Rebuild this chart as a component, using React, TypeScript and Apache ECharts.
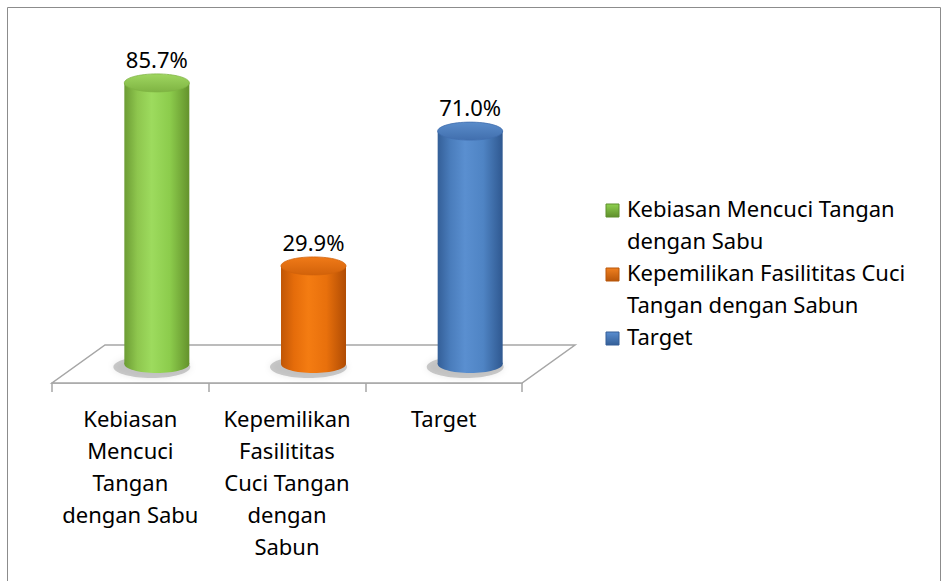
import React, { useEffect, useRef } from "react";
import * as echarts from "echarts";

const categories = [
  "Kebiasan Mencuci Tangan dengan Sabu",
  "Kepemilikan Fasilititas Cuci Tangan dengan Sabun",
  "Target",
];
const values = [85.7, 29.9, 71.0];
const valueLabels = ["85.7%", "29.9%", "71.0%"];
const axisLabelLines = [
  ["Kebiasan", "Mencuci", "Tangan", "dengan Sabu"],
  ["Kepemilikan", "Fasilititas", "Cuci Tangan", "dengan", "Sabun"],
  ["Target"],
];
const legendLines = [
  ["Kebiasan Mencuci Tangan", "dengan Sabu"],
  ["Kepemilikan Fasilititas Cuci", "Tangan dengan Sabun"],
  ["Target"],
];

const FONT = "'Noto Sans', 'Open Sans', sans-serif";
const FS = 22;

const palette = [
  {
    body: ["#6c9c34", "#8ec64e", "#9ddb5e", "#8ccc4c", "#64922c"],
    top: ["#9fd660", "#7fb443"],
    legend: ["#8fd14f", "#5f8f2c"],
  },
  {
    body: ["#c05606", "#e56c0a", "#f47c12", "#e8700c", "#b04c04"],
    top: ["#f07a18", "#d2620a"],
    legend: ["#f08020", "#b8560a"],
  },
  {
    body: ["#345f98", "#4a7dbc", "#5a8fd0", "#4f84c4", "#2f5890"],
    top: ["#5a8cca", "#416fae"],
    legend: ["#5a8ed0", "#345f98"],
  },
];

const DEPTH_X = 53;
const DEPTH_Y = 38;
const BAR_HALF_W = 32.5;
const ELL_RY = 9;

function bodyGradient(c: string[]) {
  return new echarts.graphic.LinearGradient(0, 0, 1, 0, [
    { offset: 0, color: c[0] },
    { offset: 0.2, color: c[1] },
    { offset: 0.42, color: c[2] },
    { offset: 0.7, color: c[3] },
    { offset: 1, color: c[4] },
  ]);
}

export default function App() {
  const ref = useRef<HTMLDivElement>(null);

  useEffect(() => {
    if (!ref.current) return;
    const chart = echarts.init(ref.current, undefined, { renderer: "svg" });

    const legendGraphics: any[] = [];
    let lineIndex = 0;
    legendLines.forEach((lines, i) => {
      const firstCenter = 208 + 32 * lineIndex;
      legendGraphics.push({
        type: "rect",
        shape: { x: 606, y: firstCenter - 4, width: 13, height: 13 },
        style: {
          fill: new echarts.graphic.LinearGradient(0, 0, 0, 1, [
            { offset: 0, color: palette[i].legend[0] },
            { offset: 1, color: palette[i].legend[1] },
          ]),
          stroke: palette[i].legend[1],
          lineWidth: 1,
        },
      });
      legendGraphics.push({
        type: "text",
        style: {
          text: lines.join("\n"),
          x: 627,
          y: firstCenter - 16,
          verticalAlign: "top",
          align: "left",
          lineHeight: 32,
          fontSize: FS,
          fontFamily: FONT,
          fill: "#000",
        },
      });
      lineIndex += lines.length;
    });

    const option: any = {
      animation: false,
      backgroundColor: "#ffffff",
      grid: { left: 52, right: 429, top: 55, bottom: 198, containLabel: false },
      xAxis: {
        type: "category",
        data: categories,
        boundaryGap: true,
        axisLine: { show: true, lineStyle: { color: "#a6a6a6", width: 1.5 } },
        axisTick: {
          show: true,
          alignWithLabel: false,
          length: 9,
          lineStyle: { color: "#a6a6a6", width: 1.5 },
        },
        axisLabel: {
          interval: 0,
          margin: 19,
          fontSize: FS,
          fontFamily: FONT,
          color: "#000",
          lineHeight: 32,
          align: "center",
          formatter: (_v: string, idx: number) => axisLabelLines[idx].join("\n"),
        },
        splitLine: { show: false },
      },
      yAxis: {
        type: "value",
        min: 0,
        max: 100,
        show: false,
        splitLine: { show: false },
      },
      graphic: [
        {
          type: "rect",
          shape: { x: 7.5, y: 7.5, width: 933, height: 600 },
          style: { fill: "none", stroke: "#8c8c8c", lineWidth: 1 },
          z: 100,
          silent: true,
        },
        ...legendGraphics,
      ],
      series: [
        {
          type: "custom",
          name: "floor",
          z: 1,
          data: [[0, 0]],
          silent: true,
          renderItem: (params: any) => {
            const cs = params.coordSys;
            const fy = cs.y + cs.height;
            return {
              type: "polygon",
              shape: {
                points: [
                  [cs.x, fy],
                  [cs.x + cs.width, fy],
                  [cs.x + cs.width + DEPTH_X, fy - DEPTH_Y],
                  [cs.x + DEPTH_X, fy - DEPTH_Y],
                ],
              },
              style: { fill: "#ffffff", stroke: "#a6a6a6", lineWidth: 1.5 },
            };
          },
        },
        {
          type: "custom",
          name: "bars",
          z: 2,
          data: values.map((v, i) => [i, v]),
          encode: { x: 0, y: 1 },
          renderItem: (params: any, api: any) => {
            const i = params.dataIndex;
            const v = api.value(1);
            const base = api.coord([api.value(0), 0]);
            const top = api.coord([api.value(0), v]);
            const cx = base[0] + DEPTH_X / 2;
            const baseY = base[1] - DEPTH_Y / 2;
            const topY = top[1] - DEPTH_Y / 2;
            const c = palette[i];
            const grad = bodyGradient(c.body);
            return {
              type: "group",
              children: [
                {
                  type: "ellipse",
                  shape: { cx: cx - 5, cy: baseY + 3, rx: BAR_HALF_W + 6, ry: ELL_RY + 2 },
                  style: {
                    fill: "rgba(110,110,110,0.35)",
                    shadowBlur: 6,
                    shadowColor: "rgba(0,0,0,0.25)",
                  },
                },
                {
                  type: "ellipse",
                  shape: { cx, cy: baseY, rx: BAR_HALF_W, ry: ELL_RY },
                  style: { fill: grad },
                },
                {
                  type: "rect",
                  shape: {
                    x: cx - BAR_HALF_W,
                    y: topY,
                    width: BAR_HALF_W * 2,
                    height: baseY - topY,
                  },
                  style: { fill: grad },
                },
                {
                  type: "ellipse",
                  shape: { cx, cy: topY, rx: BAR_HALF_W, ry: ELL_RY },
                  style: {
                    fill: new echarts.graphic.LinearGradient(0, 0, 0, 1, [
                      { offset: 0, color: c.top[0] },
                      { offset: 1, color: c.top[1] },
                    ]),
                    stroke: c.top[1],
                    lineWidth: 0.8,
                  },
                },
                {
                  type: "text",
                  style: {
                    text: valueLabels[i],
                    x: cx,
                    y: topY - 24,
                    align: "center",
                    verticalAlign: "middle",
                    fontSize: FS,
                    fontFamily: FONT,
                    fill: "#000",
                  },
                },
              ],
            };
          },
        },
      ],
    };

    chart.setOption(option);
    return () => chart.dispose();
  }, []);

  return (
    <div
      ref={ref}
      style={{ position: "absolute", left: 0, top: 0, width: 951, height: 581 }}
    />
  );
}
